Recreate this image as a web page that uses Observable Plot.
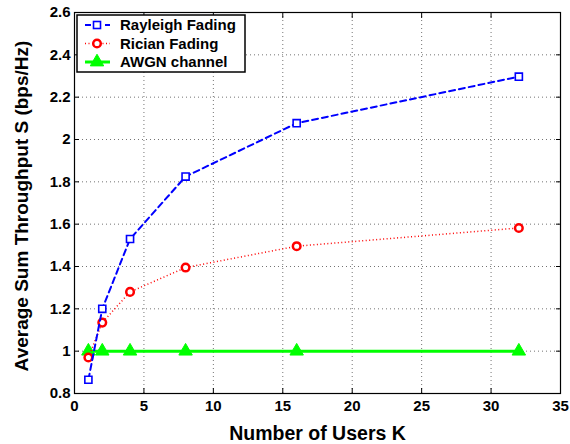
<!DOCTYPE html>
<html>
<head>
<meta charset="utf-8">
<script src="https://cdn.jsdelivr.net/npm/d3@7"></script>
<script src="https://cdn.jsdelivr.net/npm/@observablehq/plot@0.6"></script>
<style>
  html, body { margin: 0; padding: 0; background: #fff; }
  #chart { position: relative; width: 570px; height: 444px; }
  #chart svg text { font-weight: bold; }
  #chart g[aria-label$="tick label"] { font-size: 15px; font-weight: bold; }
  #chart g[aria-label$="tick label"] text { font-size: 15px; font-weight: bold; }
</style>
</head>
<body>
<div id="chart"></div>
<script>
// ---- data ----
const users = [1, 2, 4, 8, 16, 32];
const rayleigh = [0.865, 1.2, 1.53, 1.825, 2.077, 2.297];
const rician = [0.97, 1.135, 1.28, 1.395, 1.496, 1.582];
const awgn = [1, 1, 1, 1, 1, 1];
const seriesNames = ["Rayleigh Fading", "Rician Fading", "AWGN channel"];
const xTicks = [0, 5, 10, 15, 20, 25, 30, 35];
const yTicks = [0.8, 1.0, 1.2, 1.4, 1.6, 1.8, 2.0, 2.2, 2.4, 2.6];
const xTitle = "Number of Users K";
const yTitle = "Average Sum Throughput S (bps/Hz)";

const colors = { ray: "#0000ff", ric: "#ff0000", awgn: "#00ff00" };
const font = "'Liberation Sans', Arial, Helvetica, sans-serif";

const rayData = users.map((k, i) => ({ k, v: rayleigh[i] }));
const ricData = users.map((k, i) => ({ k, v: rician[i] }));
const awgnData = users.map((k, i) => ({ k, v: awgn[i] }));

const fmt = d => String(+d.toFixed(1));
const blank = () => "";

const chart = Plot.plot({
  width: 570,
  height: 444,
  marginLeft: 74,
  marginRight: 10,
  marginTop: 12,
  marginBottom: 51,
  style: { fontFamily: font, fontWeight: "bold", fontSize: "15px", background: "#fff", color: "#000", overflow: "visible" },
  x: { domain: [0, 35] },
  y: { domain: [0.8, 2.6] },
  marks: [
    Plot.gridX(xTicks.slice(1, -1), { stroke: "#000", strokeOpacity: 0.55, strokeDasharray: "1,3", strokeWidth: 1 }),
    Plot.gridY(yTicks.slice(1, -1), { stroke: "#000", strokeOpacity: 0.55, strokeDasharray: "1,3", strokeWidth: 1 }),
    // labels
    Plot.axisX(xTicks, { tickSize: 0, tickPadding: 7, label: null, tickFormat: fmt, fontSize: 15, fontWeight: "bold" }),
    Plot.axisY(yTicks, { tickSize: 0, tickPadding: 4, label: null, tickFormat: fmt, fontSize: 15, fontWeight: "bold" }),
    // inward ticks on all sides
    Plot.axisX(xTicks, { anchor: "bottom", tickSize: -5, tickFormat: blank, label: null, strokeWidth: 1 }),
    Plot.axisX(xTicks, { anchor: "top", tickSize: -5, tickFormat: blank, label: null, strokeWidth: 1 }),
    Plot.axisY(yTicks, { anchor: "left", tickSize: -5, tickFormat: blank, label: null, strokeWidth: 1 }),
    Plot.axisY(yTicks, { anchor: "right", tickSize: -5, tickFormat: blank, label: null, strokeWidth: 1 }),
    Plot.frame({ stroke: "#000", strokeWidth: 1.2 }),
    // series
    Plot.line(awgnData, { x: "k", y: "v", stroke: colors.awgn, strokeWidth: 3 }),
    Plot.dot(awgnData, { x: "k", y: "v", symbol: "triangle", r: 5, fill: colors.awgn, stroke: colors.awgn, strokeWidth: 1 }),
    Plot.line(ricData, { x: "k", y: "v", stroke: colors.ric, strokeWidth: 1.5, strokeDasharray: "1,2.5", strokeLinecap: "butt" }),
    Plot.dot(ricData, { x: "k", y: "v", r: 3.8, fill: "#fff", stroke: colors.ric, strokeWidth: 2.5 }),
    Plot.line(rayData, { x: "k", y: "v", stroke: colors.ray, strokeWidth: 2, strokeDasharray: "6,4" }),
    Plot.dot(rayData, { x: "k", y: "v", symbol: "square", r: 4, fill: "#fff", stroke: colors.ray, strokeWidth: 1.6 }),
    // axis titles
    Plot.text([xTitle], { frameAnchor: "bottom", dy: 40, fontSize: 19.5, fontWeight: "bold", lineAnchor: "middle", textAnchor: "middle", fill: "#000" }),
    Plot.text([yTitle], { frameAnchor: "left", rotate: -90, dx: -53, dy: 3, fontSize: 19, fontWeight: "bold", lineAnchor: "middle", textAnchor: "middle", fill: "#000" })
  ]
});

document.getElementById("chart").appendChild(chart);

// ---- legend (drawn into the same SVG) ----
const svg = d3.select(chart);
const lg = svg.append("g").attr("transform", "translate(77,15)");
lg.append("rect").attr("width", 168).attr("height", 57).attr("fill", "#fff").attr("stroke", "#000").attr("stroke-width", 1.5);
const rows = [
  { name: seriesNames[0], color: colors.ray, width: 2, dash: "6,4", sym: "square" },
  { name: seriesNames[1], color: colors.ric, width: 1.5, dash: "1,2.5", sym: "circle" },
  { name: seriesNames[2], color: colors.awgn, width: 3, dash: null, sym: "triangle" }
];
rows.forEach((r, i) => {
  const y = 10 + i * 18.5;
  const g = lg.append("g").attr("transform", `translate(0,${y})`);
  const ln = g.append("line").attr("x1", 8).attr("x2", 33).attr("y1", 0).attr("y2", 0)
    .attr("stroke", r.color).attr("stroke-width", r.width);
  if (r.dash) ln.attr("stroke-dasharray", r.dash);
  if (r.sym === "square") {
    g.append("rect").attr("x", 16.5).attr("y", -3.5).attr("width", 7).attr("height", 7)
      .attr("fill", "#fff").attr("stroke", r.color).attr("stroke-width", 1.6);
  } else if (r.sym === "circle") {
    g.append("circle").attr("cx", 20).attr("cy", 0).attr("r", 3.8)
      .attr("fill", "#fff").attr("stroke", r.color).attr("stroke-width", 2.5);
  } else {
    g.append("path").attr("d", d3.symbol(d3.symbolTriangle, Math.PI * 25)()).attr("transform", "translate(20,0)")
      .attr("fill", r.color).attr("stroke", r.color);
  }
  g.append("text").attr("x", 43).attr("y", 0).attr("dy", "0.35em").attr("text-anchor", "start")
    .attr("font-family", font).attr("font-weight", "bold").attr("font-size", 15).attr("fill", "#000")
    .text(r.name);
});
</script>
</body>
</html>
